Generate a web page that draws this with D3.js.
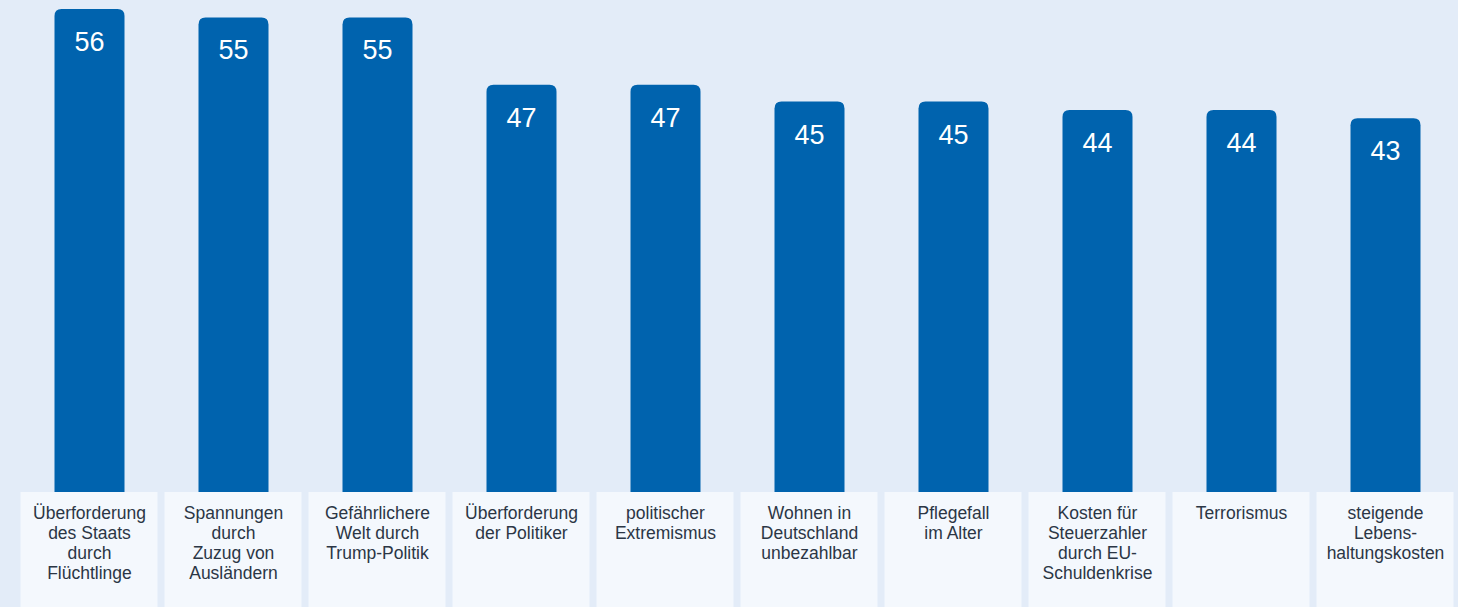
<!DOCTYPE html>
<html><head><meta charset="utf-8">
<script src="https://cdn.jsdelivr.net/npm/d3@7"></script>
<style>html,body{margin:0;padding:0;background:#e3ecf8;overflow:hidden}</style>
</head><body>
<svg id="c" width="1458" height="607"></svg>
<script>
const categories = [
  ["Überforderung","des Staats","durch","Flüchtlinge"],
  ["Spannungen","durch","Zuzug von","Ausländern"],
  ["Gefährlichere","Welt durch","Trump-Politik"],
  ["Überforderung","der Politiker"],
  ["politischer","Extremismus"],
  ["Wohnen in","Deutschland","unbezahlbar"],
  ["Pflegefall","im Alter"],
  ["Kosten für","Steuerzahler","durch EU-","Schuldenkrise"],
  ["Terrorismus"],
  ["steigende","Lebens-","haltungskosten"]
];
const values = [56, 55, 55, 47, 47, 45, 45, 44, 44, 43];

const W = 1458, H = 607;
const svg = d3.select("#c");
svg.append("rect").attr("width", W).attr("height", H).attr("fill", "#e3ecf8");

const idx = d3.range(values.length);
const x = d3.scaleBand().domain(idx).range([17.5, 1457.5]).paddingInner(0).paddingOuter(0);
const y = d3.scaleLinear().domain([0, 56]).range([480, 9]);
const baseY = 492;
const barW = 70;
const r = 7;

// label boxes
svg.selectAll("rect.box").data(idx).join("rect")
  .attr("class", "box")
  .attr("x", d => x(d) + 3)
  .attr("y", baseY)
  .attr("width", x.bandwidth() - 7)
  .attr("height", H - baseY + 5)
  .attr("fill", "#f4f8fd");

// bars with rounded top corners
svg.selectAll("path.bar").data(idx).join("path")
  .attr("class", "bar")
  .attr("fill", "#0063ae")
  .attr("d", d => {
    const cx = x(d) + x.bandwidth() / 2;
    const x0 = cx - barW / 2, x1 = cx + barW / 2;
    const t = y(values[d]);
    return `M${x0},${baseY}V${t + r}Q${x0},${t} ${x0 + r},${t}H${x1 - r}Q${x1},${t} ${x1},${t + r}V${baseY}Z`;
  });

// values
svg.selectAll("text.val").data(idx).join("text")
  .attr("class", "val")
  .attr("x", d => x(d) + x.bandwidth() / 2)
  .attr("y", d => y(values[d]) + 42)
  .attr("text-anchor", "middle")
  .attr("fill", "#ffffff")
  .attr("font-family", "Liberation Sans, Arial, sans-serif")
  .attr("font-size", 27)
  .text(d => values[d]);

// category labels
const lab = svg.selectAll("text.cat").data(idx).join("text")
  .attr("class", "cat")
  .attr("text-anchor", "middle")
  .attr("fill", "#2b3645")
  .attr("font-family", "Liberation Sans, Arial, sans-serif")
  .attr("font-size", 17.5);
lab.each(function(d) {
  const t = d3.select(this);
  categories[d].forEach((line, i) => {
    t.append("tspan")
      .attr("x", x(d) + x.bandwidth() / 2)
      .attr("y", 519 + i * 20)
      .text(line);
  });
});
</script>
</body></html>
